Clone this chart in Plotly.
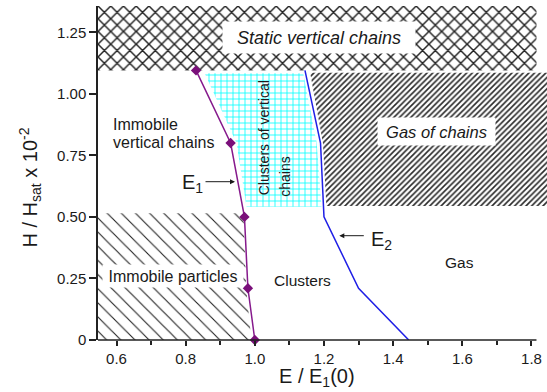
import plotly.graph_objects as go

# ---------------- data ----------------
e1_x = [0.83, 0.93, 0.97, 0.98, 1.00]
e1_y = [1.095, 0.80, 0.50, 0.21, 0.0]

e2_x = [1.145, 1.19, 1.20, 1.30, 1.445]
e2_y = [1.095, 0.80, 0.50, 0.21, 0.0]

# region boundaries (E / E1(0), H / Hsat)
static_x = [0.5465, 1.8145, 1.8145, 0.5465]
static_y = [1.095, 1.095, 1.40, 1.40]

clusters_vc_x = [0.855, 1.140, 1.179, 1.193, 0.976, 0.947]
clusters_vc_y = [1.083, 1.083, 0.80, 0.541, 0.541, 0.80]

gas_chains_x = [1.160, 1.90, 1.90, 1.207, 1.197]
gas_chains_y = [1.086, 1.086, 0.544, 0.544, 0.80]

immobile_x = [0.5465, 0.99, 0.975, 0.967, 0.5465]
immobile_y = [0.0, 0.0, 0.21, 0.515, 0.515]

x_ticks = [0.6, 0.8, 1.0, 1.2, 1.4, 1.6, 1.8]
x_ticktext = ["0.6", "0.8", "1.0", "1.2", "1.4", "1.6", "1.8"]
x_minor = [0.7, 0.9, 1.1, 1.3, 1.5, 1.7]
y_ticks = [0, 0.25, 0.5, 0.75, 1.0, 1.25]
y_ticktext = ["0", "0.25", "0.50", "0.75", "1.00", "1.25"]

# ---------------- layout geometry ----------------
W, H = 547, 392
ML, MR, MT, MB = 98, 0, 6, 52
PW, PH = W - ML - MR, H - MT - MB
XPU = 345.8   # px per unit x
YPU = 246.2   # px per unit y
X0 = 0.5465
X1 = X0 + PW / XPU
Y1 = PH / YPU


def px2x(px):
    return X0 + (px - ML) / XPU


def px2y(py):
    return (H - MB - py) / YPU


FONT = "Liberation Sans, Arial, sans-serif"
TXT = "#1a1a1a"

fig = go.Figure()


def region(xs, ys, shape, size, solidity, fg):
    fig.add_trace(go.Scatter(
        x=xs + [xs[0]], y=ys + [ys[0]], mode="lines", fill="toself",
        line=dict(width=0, color=fg), fillcolor="white",
        fillpattern=dict(shape=shape, size=size, solidity=solidity,
                         fgcolor=fg, bgcolor="white", fgopacity=1),
        hoverinfo="skip", showlegend=False))


region(static_x, static_y, "x", 9, 0.3, "#222222")
region(clusters_vc_x, clusters_vc_y, "+", 6, 0.25, "#00ffff")
region(gas_chains_x, gas_chains_y, "/", 4, 0.4, "#2a2a2a")
region(immobile_x, immobile_y, "\\", 10, 0.11, "#222222")

fig.add_trace(go.Scatter(
    x=e1_x, y=e1_y, mode="lines+markers",
    line=dict(color="#861a8c", width=1.5),
    marker=dict(symbol="diamond", size=8, color="#7a0f7a"),
    cliponaxis=False, showlegend=False, hoverinfo="skip"))

fig.add_trace(go.Scatter(
    x=e2_x, y=e2_y, mode="lines",
    line=dict(color="#1f1fe6", width=1.5),
    showlegend=False, hoverinfo="skip"))

ann = []


def label(px, py, text, size, italic=False, box=None, xanchor="center",
          angle=0):
    a = dict(x=px2x(px), y=px2y(py), xref="x", yref="y", text=text,
             showarrow=False, xanchor=xanchor, yanchor="middle",
             textangle=angle,
             font=dict(family=FONT, size=size, color=TXT,
                       style="italic" if italic else "normal"))
    if box is not None:
        a.update(bgcolor="white", width=box[0], height=box[1], borderpad=1)
    ann.append(a)


label(319, 37.5, "Static vertical chains", 18, True, box=(190, 29))
label(436.7, 131.7, "Gas of chains", 16.5, True, box=(115, 25))
label(173, 275.5, "Immobile particles", 16, False, box=(138, 20))
label(111, 124, "Immobile", 16, xanchor="left")
label(111, 142.5, "vertical chains", 16, xanchor="left")
label(264, 138.3, "Clusters of vertical", 14, angle=-90)
label(285, 176.7, "chains", 14, angle=-90)
label(302, 280, "Clusters", 15.5)
label(459.5, 262, "Gas", 15.5)
label(180, 183, "E<sub>1</sub>", 20, xanchor="left")
label(369, 240.5, "E<sub>2</sub>", 20, xanchor="left")

# arrows
ann.append(dict(x=px2x(235), y=px2y(181.7), xref="x", yref="y", text="",
                showarrow=True, ax=-31, ay=0, arrowhead=2, arrowsize=1,
                arrowwidth=1, arrowcolor=TXT))
ann.append(dict(x=px2x(339.3), y=px2y(235.7), xref="x", yref="y", text="",
                showarrow=True, ax=26, ay=0, arrowhead=2, arrowsize=1,
                arrowwidth=1, arrowcolor=TXT))

# axis titles (paper coords are relative to the plot area)
ann.append(dict(x=(316.7 - ML) / PW, y=(H - MB - 378) / PH,
                xref="paper", yref="paper",
                text="E / E<sub>1</sub>(0)", showarrow=False,
                xanchor="center", yanchor="middle",
                font=dict(family=FONT, size=20, color=TXT)))
ann.append(dict(x=(30 - ML) / PW, y=(H - MB - 187.5) / PH,
                xref="paper", yref="paper",
                text="H / H<sub>sat</sub> x 10<sup>-2</sup>", showarrow=False,
                textangle=-90, xanchor="center", yanchor="middle",
                font=dict(family=FONT, size=20, color=TXT)))

fig.update_layout(
    width=W, height=H,
    margin=dict(l=ML, r=MR, t=MT, b=MB, pad=0),
    paper_bgcolor="white", plot_bgcolor="white",
    annotations=ann,
    shapes=[dict(type="line", xref="x", yref="paper", x0=X0, x1=1.8145,
                 y0=0, y1=0, line=dict(color="#222222", width=1.5))],
    xaxis=dict(range=[X0, X1], showgrid=False, zeroline=False,
               showline=False, tickvals=x_ticks, ticktext=x_ticktext,
               ticks="outside", ticklen=5, tickwidth=1.5, tickcolor="#222",
               tickfont=dict(family=FONT, size=15, color=TXT),
               minor=dict(tickvals=x_minor, ticks="outside", ticklen=4,
                          tickwidth=1.5, tickcolor="#222")),
    yaxis=dict(range=[0, Y1], showgrid=False, zeroline=False,
               showline=True, linewidth=1.5, linecolor="#222",
               tickvals=y_ticks, ticktext=y_ticktext,
               ticks="outside", ticklen=7, tickwidth=1.5, tickcolor="#222",
               tickfont=dict(family=FONT, size=15, color=TXT)),
)

fig.write_html("out.html")
